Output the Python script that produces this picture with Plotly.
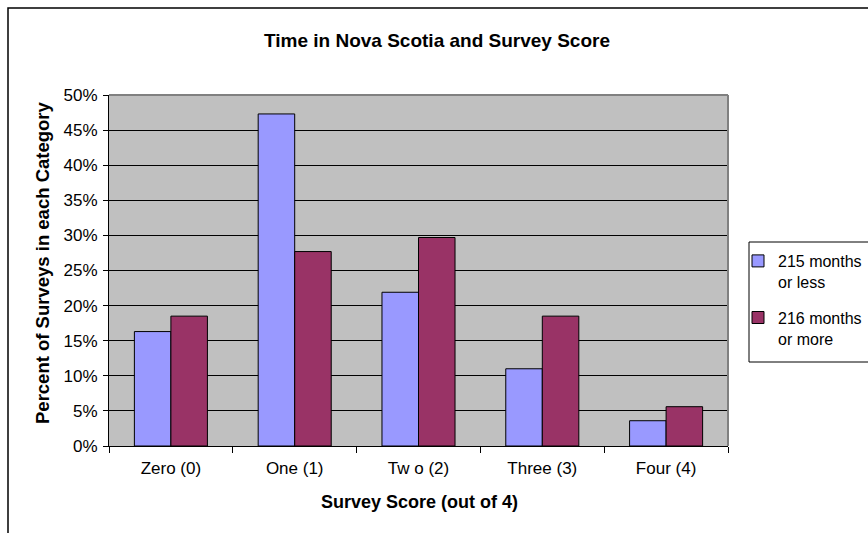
import plotly.graph_objects as go

# Survey score categories and share of surveys per group
categories = ["Zero (0)", "One (1)", "Tw o (2)", "Three (3)", "Four (4)"]
series_names = ["215 months<br>or less", "216 months<br>or more"]
short_stay = [0.163, 0.473, 0.219, 0.110, 0.036]
long_stay = [0.185, 0.277, 0.297, 0.185, 0.056]
y_ticks = [0.0, 0.05, 0.10, 0.15, 0.20, 0.25, 0.30, 0.35, 0.40, 0.45, 0.50]

FONT = "Liberation Sans, Arial, sans-serif"
W, H = 868, 533
ML, MR, MT, MB = 109, 140, 95, 87
PW, PH = W - ML - MR, H - MT - MB


def px_x(p):
    return (p - ML) / PW


def px_y(p):
    return (H - MB - p) / PH


fig = go.Figure()
fig.add_trace(go.Bar(
    x=categories, y=short_stay, name=series_names[0], legendgroup="a",
    marker=dict(color="#9999FF", line=dict(color="black", width=1)),
))
fig.add_trace(go.Bar(
    x=categories, y=long_stay, name=series_names[1], legendgroup="b",
    marker=dict(color="#993366", line=dict(color="black", width=1)),
))

fig.update_layout(
    width=W, height=H,
    margin=dict(l=ML, r=MR, t=MT, b=MB, autoexpand=False),
    paper_bgcolor="white",
    plot_bgcolor="#C0C0C0",
    barmode="group",
    bargap=0.41,
    bargroupgap=0,
    font=dict(family=FONT, size=16, color="black"),
    showlegend=True,
    legend=dict(
        x=px_x(738), y=px_y(244), xanchor="left", yanchor="top",
        bgcolor="rgba(0,0,0,0)", borderwidth=0,
        font=dict(family=FONT, size=16, color="black"),
        valign="top", tracegroupgap=12, itemwidth=30,
    ),
    xaxis=dict(
        type="category",
        showline=True, linecolor="black", linewidth=1,
        ticks="outside", tickson="boundaries", ticklen=6, tickcolor="black",
        ticklabelstandoff=7,
        tickfont=dict(family=FONT, size=17, color="black"),
        showgrid=False,
    ),
    yaxis=dict(
        range=[0, 0.5], tickvals=y_ticks, tickformat=".0%",
        showline=True, linecolor="black", linewidth=1,
        ticks="outside", ticklen=5, tickcolor="black",
        ticklabelstandoff=2,
        tickfont=dict(family=FONT, size=17, color="black"),
        showgrid=True, gridcolor="black", gridwidth=1,
        zeroline=False,
    ),
    annotations=[
        dict(text="<b>Time in Nova Scotia and Survey Score</b>",
             xref="paper", yref="paper", x=px_x(437), y=px_y(40),
             xanchor="center", yanchor="middle", showarrow=False,
             font=dict(family=FONT, size=19, color="black")),
        dict(text="<b>Survey Score (out of 4)</b>",
             xref="paper", yref="paper", x=px_x(419), y=px_y(502),
             xanchor="center", yanchor="middle", showarrow=False,
             font=dict(family=FONT, size=18, color="black")),
        dict(text="<b>Percent of Surveys in each Category</b>",
             xref="paper", yref="paper", x=px_x(42), y=px_y(263),
             xanchor="center", yanchor="middle", showarrow=False,
             textangle=-90,
             font=dict(family=FONT, size=18.5, color="black")),
    ],
    shapes=[
        # plot area frame (top and right edges in grey)
        dict(type="line", xref="paper", yref="paper", x0=0, x1=1, y0=1, y1=1,
             line=dict(color="#808080", width=2), layer="above"),
        dict(type="line", xref="paper", yref="paper", x0=1, x1=1, y0=0, y1=1,
             line=dict(color="#808080", width=2), layer="above"),
        # legend box
        dict(type="rect", xref="paper", yref="paper",
             x0=px_x(749), x1=px_x(900), y0=px_y(362), y1=px_y(242),
             line=dict(color="black", width=1), layer="above"),
        # outer chart frame
        dict(type="rect", xref="paper", yref="paper",
             x0=px_x(8), x1=px_x(1000), y0=px_y(700), y1=px_y(8),
             line=dict(color="black", width=1.5), layer="above"),
    ],
)

fig.write_html("out.html")
